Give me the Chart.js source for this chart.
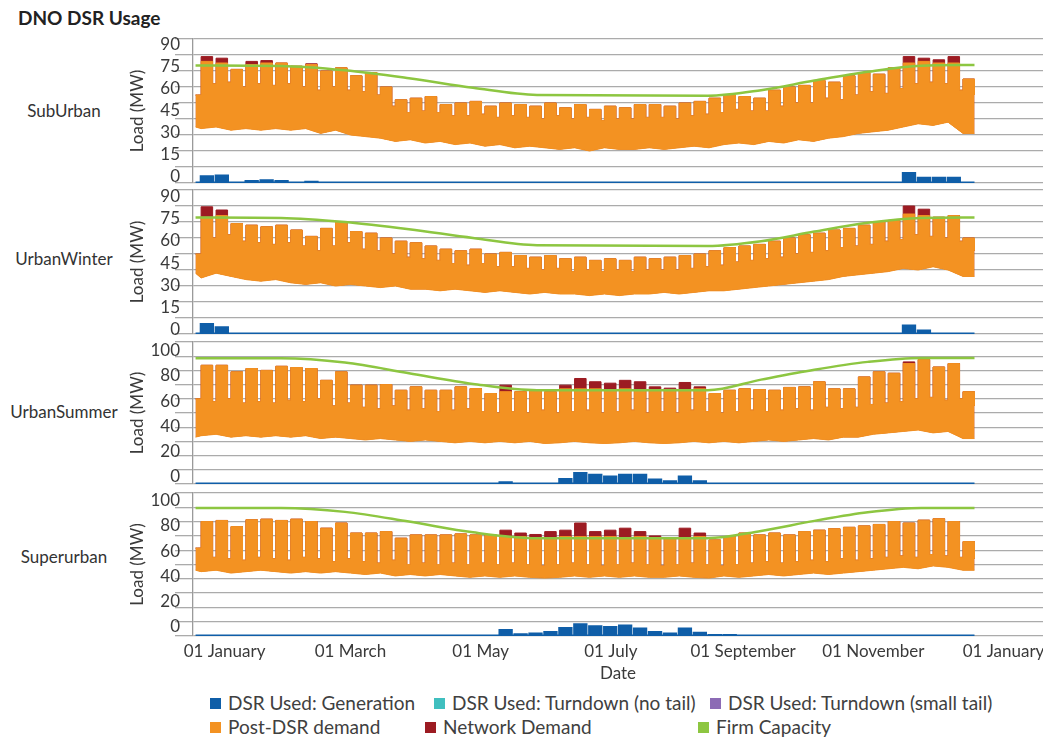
<!DOCTYPE html>
<html>
<head>
<meta charset="utf-8">
<title>DNO DSR Usage</title>
<script src="https://cdn.jsdelivr.net/npm/chart.js@4.4.1/dist/chart.umd.min.js"></script>
<style>
  body { margin: 0; background: #fff; font-family: Lato, sans-serif; }
  #wrap { position: relative; width: 1043px; height: 738px; overflow: hidden; }
  #wrap canvas { position: absolute; left: 0; }
  .title { position: absolute; left: 18px; top: 6px; font-weight: bold; font-size: 19px; color: #222; }
  .panel { position: absolute; left: 0; width: 128px; text-align: center; font-size: 17px; color: #333; line-height: 20px; }
  .leg { position: absolute; font-size: 19px; color: #404040; white-space: nowrap; line-height: 22px; }
  .leg i { display: inline-block; width: 11px; height: 11px; margin-right: 7px; vertical-align: 1px; }
</style>
</head>
<body>
<div id="wrap">
  <div class="title">DNO DSR Usage</div>
</div>
<script>
// Weeks run Monday to Sunday; 1 January falls on a Saturday, so week 0 is the
// opening weekend and week 52 the last days of December.
// Per week: weekday peak, weekend peak and overnight trough (MW).
const suburbanPeak = [55, 76, 75, 71, 74, 75, 75, 73, 74, 70, 72, 67, 69, 60, 52, 53, 54, 49, 50, 51, 48, 50, 49, 48, 50, 47, 49, 46, 48, 47, 49, 49, 48, 50, 51, 53, 55, 54, 53, 58, 60, 61, 64, 63, 67, 69, 68, 72, 75, 76, 75, 75, 65];
const suburbanWeekend = [55, 62, 63, 60, 62, 61, 62, 60, 58, 60, 58, 57, 55, 48, 44, 45, 44, 42, 42, 43, 41, 42, 41, 40, 42, 40, 41, 39, 40, 40, 41, 41, 40, 42, 43, 44, 46, 45, 45, 48, 50, 50, 53, 52, 55, 57, 56, 59, 62, 63, 62, 58, 55];
const suburbanTrough = [35, 34, 35, 33, 34, 33, 34, 33, 34, 31, 33, 30, 29, 28, 26, 27, 25, 26, 24, 25, 23, 24, 22, 23, 22, 21, 22, 20, 22, 21, 21, 22, 21, 22, 23, 22, 24, 25, 24, 26, 25, 27, 26, 28, 29, 31, 32, 33, 35, 37, 36, 38, 31];
const suburbanNetworkWeeks = [1, 2, 4, 5, 8, 48, 49, 50, 51];
const suburbanNetworkPeaks = [79, 78, 76, 76.5, 74.5, 79, 78, 77, 79];
const suburbanGenWeeks = [1, 2, 4, 5, 6, 8, 48, 49, 50, 51];
const suburbanGenValues = [4, 4.5, 1, 1.5, 1, 0.5, 6, 3, 3, 3];
const suburbanFirm = [73.5, 73.2, 70.5, 65.5, 59.5, 55, 54.5, 58, 64, 69.5, 73.3, 73.8];

const urbanWinterPeak = [50, 73, 74, 69, 68, 67, 68, 65, 61, 66, 70, 64, 63, 60, 58, 57, 55, 53, 52, 53, 50, 51, 49, 48, 49, 47, 48, 46, 47, 46, 48, 47, 48, 49, 50, 52, 54, 55, 56, 58, 60, 62, 63, 65, 66, 68, 70, 71, 75, 74, 73, 74, 60];
const urbanWinterWeekend = [50, 60, 62, 58, 57, 56, 57, 55, 52, 55, 57, 53, 52, 50, 48, 47, 46, 44, 43, 44, 42, 42, 41, 40, 41, 39, 40, 39, 40, 39, 40, 40, 40, 41, 42, 43, 45, 46, 47, 48, 50, 51, 52, 54, 55, 56, 58, 59, 62, 61, 60, 58, 52];
const urbanWinterTrough = [38, 35, 38, 36, 34, 33, 34, 32, 31, 32, 30, 31, 30, 29, 30, 28, 28, 27, 28, 27, 26, 27, 26, 25, 26, 25, 25, 24, 25, 24, 25, 25, 26, 25, 26, 27, 27, 28, 29, 30, 31, 32, 33, 34, 36, 37, 38, 39, 41, 40, 42, 40, 36];
const urbanWinterNetworkWeeks = [1, 2, 48, 49];
const urbanWinterNetworkPeaks = [79.5, 77.5, 80, 78];
const urbanWinterGenWeeks = [1, 2, 48, 49];
const urbanWinterGenValues = [6, 4, 5, 2];
const urbanWinterFirm = [72.8, 72.5, 70, 65.5, 60, 55.5, 55, 58, 64, 69.5, 72.5, 72.8];

const urbanSummerPeak = [60, 83.6, 83.6, 79, 81.3, 80, 82.9, 82, 81.3, 73, 79, 69.6, 69.6, 70, 66, 68.4, 66, 66, 68.4, 67.2, 63.7, 65, 65, 66, 65, 67, 67, 67, 66, 67, 66.5, 66, 66, 66, 67, 63.7, 66, 67, 66.5, 66, 68, 68.4, 72, 67, 67, 75.4, 79, 78, 84.8, 87.6, 82.4, 84.8, 65];
const urbanSummerWeekend = [60, 58, 60, 57, 58, 57, 59, 58, 60, 55, 57, 54, 53, 55, 52, 53, 51, 52, 53, 51, 50, 51, 50, 52, 50, 51, 52, 50, 51, 52, 50, 51, 50, 52, 51, 50, 51, 52, 51, 52, 53, 52, 54, 53, 54, 56, 57, 58, 60, 61, 59, 60, 55];
const urbanSummerTrough = [33, 34, 35, 33, 34, 33, 34, 33, 34, 32, 33, 32, 31, 32, 31, 30, 31, 30, 29, 30, 29, 30, 29, 30, 28.5, 29, 30, 29, 28.5, 29, 30, 29, 28.5, 29, 30, 29, 30, 29, 30, 31, 30, 31, 32, 31, 33, 33, 35, 36, 37, 38, 36, 37, 32];
const urbanSummerNetworkWeeks = [21, 25, 26, 27, 28, 29, 30, 31, 32, 33, 34, 48];
const urbanSummerNetworkPeaks = [69.6, 69.6, 74.3, 72, 71, 73, 72, 68.4, 67.5, 71.5, 68.4, 86];
const urbanSummerGenWeeks = [21, 25, 26, 27, 28, 29, 30, 31, 32, 33, 34];
const urbanSummerGenValues = [1, 3.3, 7.5, 6.3, 5, 6.3, 6.3, 2.8, 1.6, 5, 1.6];
const urbanSummerFirm = [88.5, 88.5, 85.5, 78, 70.5, 66, 66, 73.5, 80.5, 86, 88.8, 88.8];

const superurbanPeak = [61.5, 80, 80.8, 76.5, 81.3, 81.7, 80.8, 81.7, 80, 75.4, 79, 72, 72, 73, 68.4, 70.7, 70.7, 70.7, 71.4, 70.7, 70.7, 69.5, 69.5, 68.4, 68.4, 69.5, 69.5, 69.5, 69.5, 68.4, 69.5, 68.4, 68.4, 68.4, 69.5, 67.2, 69.5, 72, 70.7, 72, 70.7, 73, 74, 75, 76, 77, 78, 80, 79, 81, 82, 80, 66];
const superurbanWeekend = [61.5, 55, 54, 53, 55, 54, 53, 55, 54, 52, 54, 52, 51, 53, 50, 51, 50, 51, 50, 51, 50, 51, 50, 49, 50, 51, 50, 49, 50, 51, 50, 49, 50, 51, 50, 49, 50, 51, 52, 51, 52, 53, 52, 54, 53, 54, 55, 56, 55, 57, 56, 55, 54];
const superurbanTrough = [46, 45, 46, 44, 45, 46, 45, 44, 45, 44, 45, 44, 43, 44, 42, 43, 42, 43, 42, 41, 42, 41, 42, 41, 40.5, 41, 42, 41, 42, 41, 42, 41, 41, 42, 41, 40.5, 42, 41, 42, 43, 42, 43, 44, 43, 44, 45, 46, 47, 48, 47, 49, 48, 46];
const superurbanNetworkWeeks = [21, 22, 23, 24, 25, 26, 27, 28, 29, 30, 31, 33, 34];
const superurbanNetworkPeaks = [74, 72, 71, 73, 74, 79, 73, 74, 75.4, 73, 70, 75.4, 72];
const superurbanGenWeeks = [21, 22, 23, 24, 25, 26, 27, 28, 29, 30, 31, 32, 33, 34, 35, 36];
const superurbanGenValues = [4, 1, 1.5, 2.5, 5.4, 8, 6.5, 6, 7, 5, 2.5, 1.5, 5, 2, 0.5, 0.5];
const superurbanFirm = [89.5, 89.5, 86.8, 80, 72.5, 68.4, 68.4, 73.5, 80.5, 86.5, 89.5, 89.5];

// firm capacity is given at these days of the year
const firmDays = [0, 40, 70, 100, 130, 160, 240, 265, 290, 315, 340, 365];

const monthDays = [0, 59, 120, 181, 243, 304, 365];
const monthLabels = ['01 January', '01 March', '01 May', '01 July', '01 September', '01 November', '01 January'];
const loadTicks90 = [0, 15, 30, 45, 60, 75, 90];
const loadTicks100 = [0, 20, 40, 60, 80, 100];

const BLUE = '#0f5ea8', CYAN = '#40bfbf', PURPLE = '#8c6bb5', ORANGE = '#f39222', DARKRED = '#9c1b22', GREEN = '#8dc641';
const GRID = '#ababab', TEXT = '#3a3a3a';

const series = [
  { label: 'DSR Used: Generation', color: BLUE },
  { label: 'DSR Used: Turndown (no tail)', color: CYAN },
  { label: 'DSR Used: Turndown (small tail)', color: PURPLE },
  { label: 'Post-DSR demand', color: ORANGE },
  { label: 'Network Demand', color: DARKRED },
  { label: 'Firm Capacity', color: GREEN }
];

// labelRange: span of the tick-label axis, which sits slightly tighter than the grid
const panels = [
  { name: 'SubUrban', top: 27, height: 168, labelTop: 101, max: 90, ticks: loadTicks90, labelRange: [-4.3, 94.1],
    peak: suburbanPeak, weekend: suburbanWeekend, trough: suburbanTrough,
    netWeeks: suburbanNetworkWeeks, netPeaks: suburbanNetworkPeaks,
    genWeeks: suburbanGenWeeks, genValues: suburbanGenValues, firm: suburbanFirm },
  { name: 'UrbanWinter', top: 178, height: 168, labelTop: 249, max: 90, ticks: loadTicks90, labelRange: [-3.2, 94.6],
    peak: urbanWinterPeak, weekend: urbanWinterWeekend, trough: urbanWinterTrough,
    netWeeks: urbanWinterNetworkWeeks, netPeaks: urbanWinterNetworkPeaks,
    genWeeks: urbanWinterGenWeeks, genValues: urbanWinterGenValues, firm: urbanWinterFirm },
  { name: 'UrbanSummer', top: 330, height: 166, labelTop: 402, max: 100, ticks: loadTicks100, labelRange: [-5.8, 106.9],
    peak: urbanSummerPeak, weekend: urbanSummerWeekend, trough: urbanSummerTrough,
    netWeeks: urbanSummerNetworkWeeks, netPeaks: urbanSummerNetworkPeaks,
    genWeeks: urbanSummerGenWeeks, genValues: urbanSummerGenValues, firm: urbanSummerFirm },
  { name: 'Superurban', top: 481, height: 205, labelTop: 547, max: 100, ticks: loadTicks100, labelRange: [-7.4, 106.1],
    peak: superurbanPeak, weekend: superurbanWeekend, trough: superurbanTrough,
    netWeeks: superurbanNetworkWeeks, netPeaks: superurbanNetworkPeaks,
    genWeeks: superurbanGenWeeks, genValues: superurbanGenValues, firm: superurbanFirm }
];

// weekday block of week w runs from Monday morning to Saturday morning
function blockStart(w) { return Math.max(0, 7 * w - 5 + 0.6); }
function blockEnd(w) { return Math.min(365, 7 * w - 5 + 6); }

function stepPoints(weekday, weekend) {
  const pts = [];
  for (let w = 0; w < weekday.length; w++) {
    pts.push({ x: blockStart(w), y: weekday[w] }, { x: blockEnd(w), y: weekend[w] });
  }
  return pts;
}

function troughPoints(trough) {
  const pts = trough.map((v, w) => ({ x: blockStart(w), y: v }));
  pts.push({ x: 365, y: trough[trough.length - 1] });
  return pts;
}

function sparse(weeks, values, fallback) {
  const out = fallback.slice();
  weeks.forEach((w, i) => { out[w] = values[i]; });
  return out;
}

Chart.defaults.font.family = 'Lato, sans-serif';
Chart.defaults.font.size = 17;
Chart.defaults.color = TEXT;

const wrap = document.getElementById('wrap');

panels.forEach((p, idx) => {
  const last = idx === panels.length - 1;

  const lbl = document.createElement('div');
  lbl.className = 'panel';
  lbl.style.top = p.labelTop + 'px';
  lbl.textContent = p.name;
  wrap.appendChild(lbl);

  const canvas = document.createElement('canvas');
  canvas.width = 1043;
  canvas.height = p.height;
  canvas.style.top = p.top + 'px';
  wrap.appendChild(canvas);

  const zeros = p.peak.map(() => 0);
  const netPeak = sparse(p.netWeeks, p.netPeaks, p.peak);
  const gen = sparse(p.genWeeks, p.genValues, zeros);

  const datasets = [
    { label: 'Firm Capacity', data: firmDays.map((d, i) => ({ x: d, y: p.firm[i] })),
      borderColor: GREEN, borderWidth: 2.5, cubicInterpolationMode: 'monotone', fill: false },
    { label: 'DSR Used: Generation', data: stepPoints(gen, zeros),
      borderColor: BLUE, backgroundColor: BLUE, borderWidth: 2.8, stepped: true, fill: 'origin' },
    { label: 'DSR Used: Turndown (no tail)', data: [], borderColor: CYAN, backgroundColor: CYAN },
    { label: 'DSR Used: Turndown (small tail)', data: [], borderColor: PURPLE, backgroundColor: PURPLE },
    { label: 'Post-DSR demand', data: stepPoints(p.peak, p.weekend),
      borderColor: ORANGE, backgroundColor: ORANGE, borderWidth: 1, stepped: true, fill: { target: 5 } },
    { label: 'Post-DSR trough', data: troughPoints(p.trough),
      borderColor: ORANGE, borderWidth: 1, fill: false },
    { label: 'Network Demand', data: stepPoints(netPeak, p.weekend),
      borderColor: DARKRED, backgroundColor: DARKRED, borderWidth: 1, stepped: true, fill: { target: 5 } }
  ];

  new Chart(canvas, {
    type: 'line',
    data: { datasets: datasets },
    options: {
      responsive: false,
      animation: false,
      events: [],
      layout: { padding: { top: 12, bottom: last ? 0 : 12, left: 0, right: 0 } },
      elements: { point: { radius: 0 }, line: { tension: 0 } },
      plugins: { legend: { display: false }, tooltip: { enabled: false } },
      scales: {
        x: {
          type: 'linear', min: -1.2, max: 397.1, display: last,
          afterBuildTicks: s => { s.ticks = monthDays.map(v => ({ value: v })); },
          afterFit: s => { s.height = last ? 50 : 0; },
          ticks: { callback: (v, i) => monthLabels[i], labelOffset: 29, padding: 5,
                   maxRotation: 0, autoSkip: false, color: TEXT },
          grid: { display: false, drawTicks: false },
          border: { display: false },
          title: { display: true, text: 'Date', color: TEXT, padding: { top: 2, bottom: 2 } }
        },
        // data axis: carries the gridlines every 10 MW
        y: {
          position: 'left', weight: 0, min: 0, max: p.max,
          afterFit: s => { s.width = 12; },
          ticks: { stepSize: 10, display: false },
          grid: { tickLength: 18, lineWidth: 1.3, color: GRID },
          border: { color: '#9a9a9a', width: 1.3 }
        },
        // label axis: tick labels and title only
        yl: {
          position: 'left', weight: 1, min: p.labelRange[0], max: p.labelRange[1],
          afterBuildTicks: s => { s.ticks = p.ticks.map(v => ({ value: v })); },
          afterFit: s => { s.width = 181; },
          ticks: { padding: 1, autoSkip: false, color: TEXT },
          grid: { display: false, drawTicks: false },
          border: { display: false },
          title: { display: true, text: 'Load (MW)', color: TEXT, padding: { top: 127, bottom: 0 } }
        }
      }
    }
  });
});

// legend, laid out in two rows of three
const legendSpots = [
  { x: 210, y: 692 }, { x: 434, y: 692 }, { x: 710, y: 692 },
  { x: 210, y: 716 }, { x: 425, y: 716 }, { x: 698, y: 716 }
];
series.forEach((s, i) => {
  const d = document.createElement('div');
  d.className = 'leg';
  d.style.left = legendSpots[i].x + 'px';
  d.style.top = legendSpots[i].y + 'px';
  const sw = document.createElement('i');
  sw.style.background = s.color;
  d.appendChild(sw);
  d.appendChild(document.createTextNode(s.label));
  wrap.appendChild(d);
});
</script>
</body>
</html>
